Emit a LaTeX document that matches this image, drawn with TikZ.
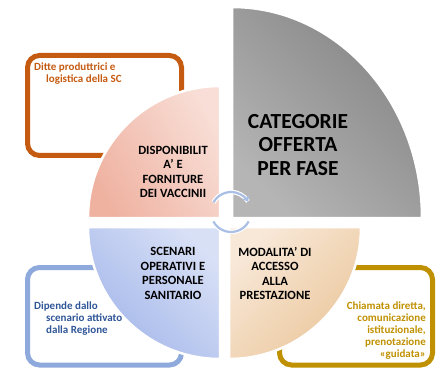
\documentclass[tikz,border=0pt]{standalone}
\usepackage{fontspec}
\setmainfont{Carlito}
\usetikzlibrary{arrows.meta}

\definecolor{orangeline}{HTML}{C55A11}
\definecolor{blueline}{HTML}{8EA9DB}
\definecolor{bluetxt}{HTML}{2F5597}
\definecolor{goldline}{HTML}{BF9000}
\definecolor{pinkdark}{HTML}{EFB2A1}
\definecolor{pinklight}{HTML}{F8DED6}
\definecolor{greydark}{HTML}{858585}
\definecolor{greylight}{HTML}{B5B5B5}
\definecolor{bluedark}{HTML}{A4B7EA}
\definecolor{bluelight}{HTML}{D8E0F6}
\definecolor{beigelight}{HTML}{F8E8D8}
\definecolor{beigedark}{HTML}{EBC79C}
\definecolor{cycleblue}{HTML}{AABFE5}

\begin{document}
\begin{tikzpicture}[x=1pt,y=1pt,
    quad/.style={draw=white, line width=2.5pt},
    notebox/.style={line width=5pt, rounded corners=12pt},
    heading/.style={font=\bfseries\fontsize{12.6}{14.5}\selectfont, align=center, inner sep=0pt},
    note/.style={font=\bfseries\fontsize{11}{12}\selectfont, inner sep=0pt}]
    
    \useasboundingbox (0,0) rectangle (447,370);
    
    % Note boxes (behind the quadrants)
    \draw[notebox, orangeline] (27.5,214.5) rectangle (181.5,314.5);
    \draw[notebox, blueline] (27.5,5) rectangle (181.5,102.5);
    \draw[notebox, goldline] (279.5,5) rectangle (432.5,102.5);
    
    % Quadrants
    \shadedraw[quad, top color=pinklight, bottom color=pinkdark, shading angle=-60]
        (220,152) -- ++(-132,0) arc (180:90:132) -- cycle;
    \shadedraw[quad, top color=greydark, bottom color=greylight, shading angle=-45]
        (232,152) -- ++(190,0) arc[start angle=0, end angle=90, x radius=190, y radius=211] -- cycle;
    \shadedraw[quad, top color=bluelight, bottom color=bluedark, shading angle=-45]
        (220,143) -- ++(0,-132) arc (270:180:132) -- cycle;
    \shadedraw[quad, top color=beigelight, bottom color=beigedark, shading angle=45]
        (229,143) -- ++(132,0) arc (0:-90:132) -- cycle;
    
    % Cycle arrows in the middle
    \coordinate (hub) at (231,158);
    \draw[white, line width=4.5pt] (hub) ++(151:20) arc (151:32:20);
    \draw[cycleblue, line width=2.2pt, -{Stealth[length=6pt,width=8pt]}] (hub) ++(151:20) arc (151:30:20);
    \draw[white, line width=4.5pt] (hub) ++(208:20) arc (208:332:20);
    \draw[cycleblue, line width=2.2pt] (hub) ++(208:20) arc (208:332:20);
    
    % Headings
    \node[heading] (supplies) at (173,198) {DISPONIBILIT\\A’ E\\FORNITURE\\DEI VACCINII};
    \node[heading, font=\bfseries\fontsize{21.5}{23.5}\selectfont] (offer) at (298,225) {CATEGORIE\\OFFERTA\\PER FASE};
    \node[heading] (scenarios) at (173,96.5) {SCENARI\\OPERATIVI E\\PERSONALE\\SANITARIO};
    \node[heading] (access) at (275,96.5) {MODALITA’ DI\\ACCESSO\\ALLA\\PRESTAZIONE};
    
    % Notes
    \node[note, text=orangeline, anchor=north west, align=left] (makers) at (34,307)
        {Ditte produttrici e\\\hspace*{12pt}logistica della SC};
    \node[note, text=bluetxt, anchor=north west, align=left] (region) at (34,68)
        {Dipende dallo\\\hspace*{12pt}scenario attivato\\\hspace*{12pt}dalla Regione};
    \node[note, text=goldline, anchor=north east, align=right] (booking) at (426,68)
        {Chiamata diretta,\\comunicazione\\istituzionale,\\prenotazione\\«guidata»};
    
\end{tikzpicture}
\end{document}
